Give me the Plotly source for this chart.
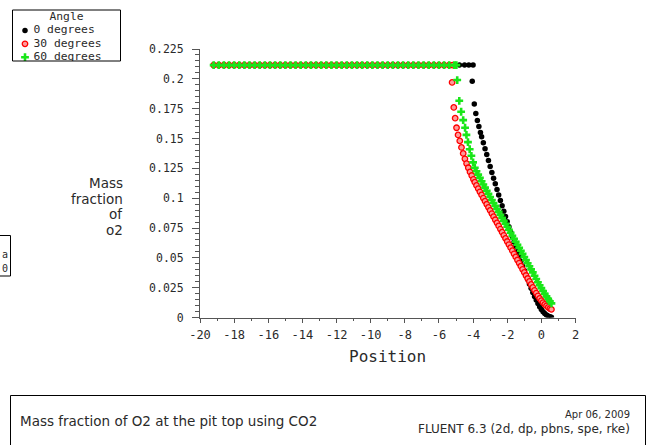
import plotly.graph_objects as go

W, H = 666, 445

# ---------------- data ----------------
PLATEAU_VALUE = 0.2115
PLATEAU_POS = [-19.2, -18.9, -18.6, -18.3, -18.0, -17.7, -17.4, -17.1, -16.8, -16.5,
               -16.2, -15.9, -15.6, -15.3, -15.0, -14.7, -14.4, -14.1, -13.8, -13.5,
               -13.2, -12.9, -12.6, -12.3, -12.0, -11.7, -11.4, -11.1, -10.8, -10.5,
               -10.2, -9.9, -9.6, -9.3, -9.0, -8.7, -8.4, -8.1, -7.8, -7.5,
               -7.2, -6.9, -6.6, -6.3, -6.0, -5.7, -5.4]

black_plateau_extra = [-5.1, -4.8, -4.5, -4.25, -4.0]
red_plateau_extra = [-5.2]
green_plateau_extra = [-5.1, -4.98]

black_curve_pos = [-4.05, -3.93, -3.84, -3.75, -3.66, -3.57,
                   -3.5, -3.4, -3.3, -3.2, -3.1, -3.0, -2.9, -2.8, -2.7, -2.6, -2.5, -2.4, -2.3, -2.2, -2.1, -2.0,
                   -1.9, -1.8, -1.7, -1.6, -1.5, -1.4, -1.3, -1.2, -1.1, -1.0,
                   -0.9, -0.8, -0.7, -0.6, -0.5, -0.4, -0.3, -0.2, -0.1, 0.0,
                   0.1, 0.2, 0.3, 0.4, 0.5, 0.59]
black_curve_val = [0.198, 0.179, 0.171, 0.165, 0.160, 0.155,
                   0.1515, 0.1465, 0.1415, 0.1365, 0.1315, 0.1265, 0.1215, 0.1167, 0.1120, 0.1073, 0.1027, 0.0981,
                   0.0936, 0.0891, 0.0847, 0.0803,
                   0.0760, 0.0717, 0.0675, 0.0633, 0.0592, 0.0551, 0.0511, 0.0471, 0.0432, 0.0393,
                   0.0355, 0.0318, 0.0281, 0.0245, 0.0210, 0.0177, 0.0146, 0.0117, 0.0091, 0.0068,
                   0.0049, 0.0033, 0.0021, 0.0012, 0.0006, 0.0003]

red_curve_pos = [-5.23, -5.13, -5.05, -4.97, -4.88, -4.78, -4.68, -4.58, -4.48, -4.38, -4.28, -4.18, -4.08, -3.98,
                 -3.9, -3.8, -3.7, -3.6, -3.5, -3.4, -3.3, -3.2, -3.1, -3.0, -2.9, -2.8, -2.7, -2.6, -2.5, -2.4,
                 -2.3, -2.2, -2.1, -2.0, -1.9, -1.8, -1.7, -1.6, -1.5, -1.4, -1.3,
                 -1.2, -1.1, -1.0, -0.9, -0.8, -0.7, -0.6, -0.5, -0.4, -0.3, -0.2, -0.1, 0.0,
                 0.1, 0.2, 0.3, 0.4, 0.5, 0.59]
red_curve_val = [0.197, 0.176, 0.167, 0.159, 0.153, 0.148, 0.1425, 0.1375, 0.133, 0.129, 0.1255, 0.122, 0.119, 0.1158,
                 0.1134, 0.1107, 0.1080, 0.1053, 0.1027, 0.1001, 0.0975, 0.0949, 0.0923, 0.0897, 0.0871, 0.0845,
                 0.0819, 0.0793, 0.0767, 0.0741, 0.0715, 0.0689, 0.0663, 0.0637, 0.0611, 0.0585, 0.0560, 0.0534,
                 0.0508, 0.0482, 0.0456,
                 0.0430, 0.0404, 0.0378, 0.0352, 0.0327, 0.0302, 0.0277, 0.0252, 0.0228, 0.0205, 0.0182, 0.0160,
                 0.0142,
                 0.0125, 0.0110, 0.0097, 0.0085, 0.0075, 0.0068]

green_curve_pos = [-4.93, -4.81, -4.70, -4.58, -4.47, -4.39, -4.3, -4.2, -4.1, -4.0, -3.9, -3.8, -3.7, -3.6,
                   -3.5, -3.4, -3.3, -3.2, -3.1, -3.0, -2.9, -2.8, -2.7, -2.6, -2.5, -2.4, -2.3, -2.2, -2.1, -2.0,
                   -1.9, -1.8, -1.7, -1.6, -1.5, -1.4, -1.3, -1.2, -1.1, -1.0,
                   -0.9, -0.8, -0.7, -0.6, -0.5, -0.4, -0.3, -0.2, -0.1, 0.0,
                   0.1, 0.2, 0.3, 0.4, 0.5, 0.59]
green_curve_val = [0.199, 0.1816, 0.1724, 0.1654, 0.159, 0.153, 0.147, 0.141, 0.1355, 0.130, 0.1255, 0.1225, 0.1197,
                   0.117,
                   0.1142, 0.1115, 0.1088, 0.1062, 0.1036, 0.1010, 0.0985, 0.0960, 0.0935, 0.0910, 0.0885, 0.0860,
                   0.0835, 0.0810, 0.0785, 0.0760,
                   0.0735, 0.0710, 0.0685, 0.0660, 0.0635, 0.0610, 0.0585, 0.0559, 0.0533, 0.0507,
                   0.0481, 0.0455, 0.0429, 0.0403, 0.0378, 0.0350, 0.0322, 0.0295, 0.0270, 0.0246,
                   0.0222, 0.0199, 0.0177, 0.0156, 0.0136, 0.0118]

series_names = ["0 degrees", "30 degrees", "60 degrees"]
legend_title = "Angle"

x_tickvals = [-20, -18, -16, -14, -12, -10, -8, -6, -4, -2, 0, 2]
x_ticktext = ["-20", "-18", "-16", "-14", "-12", "-10", "-8", "-6", "-4", "-2", "0", "2"]
y_tickvals = [0, 0.025, 0.05, 0.075, 0.1, 0.125, 0.15, 0.175, 0.2, 0.225]
y_ticktext = ["0", "0.025", "0.05", "0.075", "0.1", "0.125", "0.15", "0.175", "0.2", "0.225"]

x_title = "Position"
y_title_lines = ["Mass", "fraction", "of", "o2"]
footer_left = "Mass fraction of O2 at the pit top using CO2"
footer_right = ["Apr 06, 2009", "FLUENT 6.3 (2d, dp, pbns, spe, rke)"]
edge_box_text = ["a", "0"]

# ---------------- styles ----------------
BLACK = "#000000"
RED = "#ff0000"
GREEN = "#19e619"
AXIS = "#555555"
TXT = "#2a2a2a"
MONO = "DejaVu Sans Mono"
SANS = "DejaVu Sans"


def px(x):
    return x / W


def py(y):
    return 1 - y / H


black_x = PLATEAU_POS + black_plateau_extra + black_curve_pos
black_y = [PLATEAU_VALUE] * (len(PLATEAU_POS) + len(black_plateau_extra)) + black_curve_val
red_x = PLATEAU_POS + red_plateau_extra + red_curve_pos
red_y = [PLATEAU_VALUE] * (len(PLATEAU_POS) + len(red_plateau_extra)) + red_curve_val
green_x = PLATEAU_POS + green_plateau_extra + green_curve_pos
green_y = [PLATEAU_VALUE] * (len(PLATEAU_POS) + len(green_plateau_extra)) + green_curve_val

marker_black = dict(symbol="circle", size=5.5, color=BLACK, line=dict(width=0))
marker_red = dict(symbol="circle", size=5.5, color="#ff9a9a", line=dict(width=1.3, color=RED))
marker_green = dict(symbol="cross", size=6.5, color=GREEN, line=dict(width=0))

fig = go.Figure()
fig.add_trace(go.Scatter(x=black_x, y=black_y, mode="markers", marker=marker_black,
                         name=series_names[0], showlegend=False))
fig.add_trace(go.Scatter(x=red_x, y=red_y, mode="markers", marker=marker_red,
                         name=series_names[1], showlegend=False))
fig.add_trace(go.Scatter(x=green_x, y=green_y, mode="markers", marker=marker_green,
                         name=series_names[2], showlegend=False))

# legend drawn in a small clipped subplot (pixel coordinates)
LEG_L, LEG_R, LEG_T, LEG_B = 12.5, 120.5, 10, 61
leg_marker_x = 25
leg_title_y = 17
leg_rows_y = [30.4, 43.8, 57.2]
fig.add_trace(go.Scatter(x=[leg_marker_x], y=[leg_rows_y[0]], mode="markers", marker=marker_black,
                         xaxis="x2", yaxis="y2", showlegend=False, hoverinfo="skip"))
fig.add_trace(go.Scatter(x=[leg_marker_x], y=[leg_rows_y[1]], mode="markers", marker=marker_red,
                         xaxis="x2", yaxis="y2", showlegend=False, hoverinfo="skip"))
fig.add_trace(go.Scatter(x=[leg_marker_x], y=[leg_rows_y[2]], mode="markers", marker=marker_green,
                         xaxis="x2", yaxis="y2", showlegend=False, hoverinfo="skip"))
fig.add_trace(go.Scatter(x=[33.5] * 3, y=leg_rows_y, mode="text", text=series_names,
                         textposition="middle right", textfont=dict(family=MONO, size=11.3, color=TXT),
                         xaxis="x2", yaxis="y2", showlegend=False, hoverinfo="skip", cliponaxis=True))
fig.add_trace(go.Scatter(x=[66.5], y=[leg_title_y], mode="text", text=[legend_title],
                         textposition="middle center", textfont=dict(family=MONO, size=11.3, color=TXT),
                         xaxis="x2", yaxis="y2", showlegend=False, hoverinfo="skip", cliponaxis=True))

X0, X1 = 200, 575.5
Y0, Y1 = 317.5, 49

fig.update_layout(
    width=W, height=H,
    margin=dict(l=0, r=0, t=0, b=0, pad=0),
    paper_bgcolor="white", plot_bgcolor="white",
    template="none",
    showlegend=False,
    xaxis=dict(domain=[px(X0), px(X1)], range=[-20, 2], anchor="y",
               showgrid=False, zeroline=False, showline=True, linecolor=AXIS, linewidth=1,
               ticks="outside", ticklen=4, tickwidth=1, tickcolor=AXIS,
               tickvals=x_tickvals, ticktext=x_ticktext,
               tickfont=dict(family=MONO, size=12, color=TXT),
               ticklabelstandoff=2,
               minor=dict(dtick=1, tick0=0, ticks="outside", ticklen=2, tickcolor=AXIS, showgrid=False),
               automargin=False, fixedrange=True),
    yaxis=dict(domain=[py(Y0), py(Y1)], range=[0, 0.225], anchor="x",
               showgrid=False, zeroline=False, showline=True, linecolor=AXIS, linewidth=1,
               ticks="outside", ticklen=7, tickwidth=1, tickcolor=AXIS,
               tickvals=y_tickvals, ticktext=y_ticktext,
               tickfont=dict(family=MONO, size=11.5, color=TXT),
               ticklabelstandoff=6,
               minor=dict(dtick=0.005, tick0=0, ticks="outside", ticklen=4, tickcolor=AXIS, showgrid=False),
               automargin=False, fixedrange=True),
    xaxis2=dict(domain=[px(LEG_L), px(LEG_R)], range=[LEG_L, LEG_R], anchor="y2",
                visible=False, fixedrange=True),
    yaxis2=dict(domain=[py(LEG_B), py(LEG_T)], range=[LEG_B, LEG_T], anchor="x2",
                visible=False, fixedrange=True),
)

shapes = [
    dict(type="rect", xref="paper", yref="paper", x0=px(LEG_L), x1=px(LEG_R), y0=py(LEG_B), y1=py(LEG_T),
         line=dict(color=BLACK, width=1)),
    dict(type="rect", xref="paper", yref="paper", x0=px(10.5), x1=px(645.5), y0=py(460), y1=py(395.5),
         line=dict(color=BLACK, width=1)),
    dict(type="rect", xref="paper", yref="paper", x0=px(-10), x1=px(10.5), y0=py(276), y1=py(235.5),
         line=dict(color=BLACK, width=1)),
]
fig.update_layout(shapes=shapes)

ann = []
# axis titles
ann.append(dict(text=x_title, x=px((X0 + X1) / 2), y=py(356), xref="paper", yref="paper",
                xanchor="center", yanchor="middle", showarrow=False, borderpad=0,
                font=dict(family=MONO, size=16, color=TXT)))
for t, yy in zip(y_title_lines, [183, 198.7, 214.3, 230]):
    ann.append(dict(text=t, x=px(124), y=py(yy), xref="paper", yref="paper",
                    xanchor="right", yanchor="middle", showarrow=False, borderpad=0,
                    font=dict(family=SANS, size=13.5, color=TXT)))
# footer
ann.append(dict(text=footer_left, x=px(19), y=py(420.5), xref="paper", yref="paper",
                xanchor="left", yanchor="middle", showarrow=False, borderpad=0,
                font=dict(family=SANS, size=13.5, color=TXT)))
for t, yy, fs in zip(footer_right, [414.5, 428.5], [10, 12]):
    ann.append(dict(text=t, x=px(631), y=py(yy), xref="paper", yref="paper",
                    xanchor="right", yanchor="middle", showarrow=False, borderpad=0,
                    font=dict(family=SANS, size=fs, color=TXT)))
# small boxed texts at the left edge
for t, yy in zip(edge_box_text, [255, 268]):
    ann.append(dict(text=t, x=px(1), y=py(yy), xref="paper", yref="paper",
                    xanchor="left", yanchor="middle", showarrow=False, borderpad=0,
                    font=dict(family=MONO, size=10, color=TXT)))
fig.update_layout(annotations=ann)

fig.write_html("out.html")
